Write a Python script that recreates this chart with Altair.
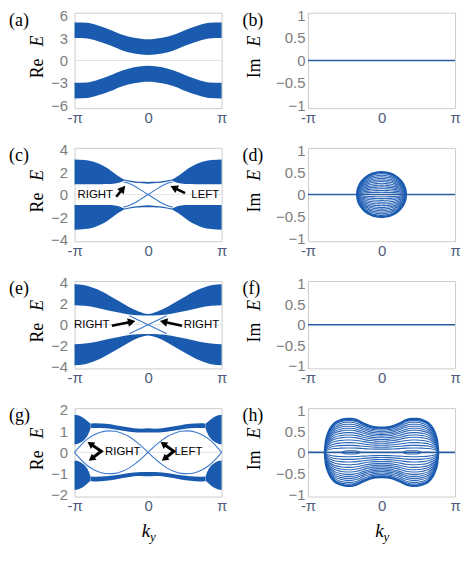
import math
import pandas as pd
import altair as alt

PI = math.pi

# ---------------- values ----------------
K_TICKS = [-PI, 0.0, PI]
RE_TICKS_A = [-6, -3, 0, 3, 6]
RE_TICKS_CE = [-4, -2, 0, 2, 4]
RE_TICKS_G = [-2, -1, 0, 1, 2]
IM_TICKS = [-1, -0.5, 0, 0.5, 1]

# (a) upper band (k <= 0 half; symmetric in k, lower band mirrored in E)
A_K = [-PI, -2.6, -2.1, -1.6, -1.1, -0.6, 0.0]
A_TOP = [5.1, 5.05, 4.65, 4.1, 3.45, 3.05, 2.85]
A_BOT = [3.0, 2.95, 2.55, 2.0, 1.35, 0.92, 0.72]

# (c) bulk (left, upper), middle thin band, edge state
C_BULK_K = [-PI, -2.7, -2.29, -2.0, -1.73, -1.5, -1.3, -1.15, -1.02]
C_BULK_TOP = [3.12, 3.07, 2.9, 2.65, 2.33, 1.98, 1.66, 1.48, 1.33]
C_BULK_BOT = [0.92, 0.92, 0.92, 0.92, 0.93, 0.96, 1.02, 1.12, 1.25]
C_MID_K = [-1.02, -0.8, -0.5, -0.25, 0.0]
C_MID_TOP = [1.33, 1.25, 1.16, 1.13, 1.12]
C_MID_BOT = [1.25, 1.14, 1.04, 1.0, 0.96]
C_EDGE_K = [-1.05, -0.8, -0.6, -0.3, 0.0, 0.3, 0.6, 0.8, 1.05]
C_EDGE_E = [1.12, 0.98, 0.78, 0.39, 0.0, -0.39, -0.78, -0.98, -1.12]

# (e)
E_K = [-PI, -2.7, -2.2, -1.65, -1.2, -0.8, -0.4, 0.0]
E_TOP = [3.85, 3.75, 3.38, 2.75, 2.18, 1.66, 1.25, 1.02]
E_BOT = [1.85, 1.79, 1.61, 1.33, 1.14, 0.97, 0.9, 0.88]
E_EDGE_K = [-0.8, -0.4, 0.0, 0.4, 0.8]
E_EDGE_E = [0.86, 0.43, 0.0, -0.43, -0.86]

# (g)
G_BULK_K = [-PI, -3.0, -2.85, -2.7, -2.58, -2.46]
G_BULK_TOP = [1.77, 1.75, 1.68, 1.57, 1.46, 1.34]
G_BULK_BOT = [0.38, 0.41, 0.49, 0.62, 0.8, 1.12]
G_BAND_K = [-2.45, -2.2, -1.8, -1.4, -1.0, -0.6, -0.3, 0.0]
G_BAND_TOP = [1.36, 1.37, 1.34, 1.28, 1.2, 1.13, 1.11, 1.13]
G_BAND_BOT = [1.14, 1.15, 1.13, 1.08, 1.01, 0.95, 0.93, 0.93]
G_EYE_K = [-PI, -2.9, -2.6, -2.3, -2.0, -1.7, -1.4, -1.1, -0.8, -0.5, -0.25, 0.0]
G_EYE_E = [0.0, 0.31, 0.62, 0.83, 0.96, 1.01, 0.99, 0.89, 0.73, 0.49, 0.26, 0.0]

# (d) outer contour (k <= 0 half) and relative heights of the nested curves
D_K = [-1.04, -1.02, -0.98, -0.92, -0.84, -0.72, -0.56, -0.36, -0.16, 0.0]
D_OUT = [0.0, 0.1, 0.17, 0.24, 0.3, 0.37, 0.43, 0.48, 0.5, 0.51]
D_LEVELS = [1.0, 0.93, 0.86, 0.79, 0.72, 0.65, 0.58, 0.5, 0.42, 0.34, 0.26, 0.18, 0.1]

# (h)
H_K = [-2.42, -2.38, -2.3, -2.18, -2.0, -1.75, -1.5, -1.3, -1.05, -0.8, -0.5, -0.25, 0.0]
H_OUT = [0.0, 0.25, 0.43, 0.58, 0.7, 0.77, 0.8, 0.8, 0.77, 0.7, 0.63, 0.6, 0.59]
H_LEVELS = [1.0, 0.95, 0.9, 0.84, 0.78, 0.72, 0.66, 0.59, 0.52, 0.45, 0.37, 0.29, 0.21, 0.13]
H_EYE_K = [-1.72, -1.62, -1.48, -1.31, -1.14, -1.0, -0.9]
H_EYE_E = [0.0, 0.028, 0.038, 0.04, 0.038, 0.028, 0.0]

# annotations: (label, align, k, E) and arrows (k_tail, E_tail, k_head, E_head)
C_LABELS = [("RIGHT", "right", -1.5, -0.06), ("LEFT", "left", 1.85, -0.06)]
C_ARROWS = [(-1.36, -0.2, -1.08, 0.52), (1.58, 0.12, 1.1, 0.62)]
E_LABELS = [("RIGHT", "right", -1.65, -0.05), ("RIGHT", "left", 1.52, -0.05)]
E_ARROWS = [(-1.55, -0.1, -0.7, 0.28), (1.45, -0.1, 0.66, 0.28)]
G_LABELS = [("RIGHT", "left", -1.84, 0.0), ("LEFT", "left", 1.13, 0.0)]
G_ZIGZAGS = [[(-2.47, 0.4), (-2.0, 0.05), (-2.42, -0.3)],
             [(0.65, 0.4), (1.1, 0.05), (0.7, -0.3)]]

# ---------------- styling ----------------
SERIF = "Liberation Serif"
SANS = "Liberation Sans"
BLUE = "#1a5bb0"
LINE = "#3b79cc"
FLAT = "#2a5d9f"
YLAB = "#7d7d7d"
XLAB = "#4d5c7c"
GRID = "#e3e3e3"
FRAME = "#cdcdcd"
W = 148
ROW_H = [96, 94, 88, 89]


def sym_k(half):
    return list(half) + [-v for v in reversed(half[:-1])]


def sym_v(half):
    return list(half) + list(reversed(half[:-1]))


def axes(ydom, yticks, pad):
    X = alt.X("k:Q", title=None,
              scale=alt.Scale(domain=[-PI, PI], nice=False, zero=False),
              axis=alt.Axis(values=K_TICKS,
                            labelExpr="datum.value < -1 ? '-π' : (datum.value > 1 ? 'π' : '0')",
                            labelFlush=False, ticks=False, domain=False, grid=False,
                            labelColor=XLAB, labelFont=SANS, labelFontSize=15, labelPadding=2))
    Y = alt.Y("E:Q", title=None,
              scale=alt.Scale(domain=ydom, nice=False, zero=False),
              axis=alt.Axis(values=yticks,
                            labelExpr="datum.value < 0 ? '−' + format(-datum.value, '') : format(datum.value, '')",
                            ticks=False, domain=False, grid=False,
                            labelColor=YLAB, labelFont=SANS, labelFontSize=15, labelPadding=pad))
    return X, Y


def txt(s, x, y, size, font=SERIF, style="normal", align="left", baseline="middle", angle=0):
    kw = dict(font=font, fontSize=size, fontStyle=style, align=align, baseline=baseline, color="black")
    if angle:
        kw["angle"] = angle
    return alt.Chart(pd.DataFrame({"t": [s]})).mark_text(**kw).encode(
        x=alt.value(x), y=alt.value(y), text="t:N")


def decorations(letter, part, h, title_x, with_k=False):
    c = h / 2
    out = [txt(f"({letter})", -66, 8, 18),
           txt(part, title_x, c + 18, 18, angle=270, baseline="alphabetic"),
           txt("E", title_x, c - 14, 18, style="italic", angle=270, baseline="alphabetic")]
    if with_k:
        out += [txt("k", W / 2 + 2, h + 41, 19, style="italic", align="right", baseline="alphabetic"),
                txt("y", W / 2 + 2, h + 45, 13, style="italic", align="left", baseline="alphabetic")]
    return out


def bands(rows, X, Y, color=BLUE):
    df = pd.DataFrame(rows, columns=["k", "E", "E2", "seg"])
    return alt.Chart(df).mark_area(color=color, interpolate="monotone", opacity=1).encode(
        x=X, y=Y, y2="E2:Q", detail="seg:N")


def lines(rows, X, Y, color, width):
    df = pd.DataFrame(rows, columns=["k", "E", "seg"])
    return alt.Chart(df).mark_line(color=color, strokeWidth=width, interpolate="monotone").encode(
        x=X, y=Y, detail="seg:N")


def zero_rule(Y):
    return alt.Chart(pd.DataFrame({"E": [0.0]})).mark_rule(color=GRID, strokeWidth=1).encode(y=Y)


def screen_angle(k0, e0, k1, e1, h, ydom):
    dx = (k1 - k0) * W / (2 * PI)
    dy = -(e1 - e0) * h / (ydom[1] - ydom[0])
    return math.degrees(math.atan2(dy, dx)) % 360


def arrow_layers(arrs, X, Y, h, ydom):
    shafts = pd.DataFrame([(a, b, c, d) for a, b, c, d in arrs], columns=["k", "E", "k2", "E2"])
    heads = pd.DataFrame([(c, d, screen_angle(a, b, c, d, h, ydom)) for a, b, c, d in arrs],
                         columns=["k", "E", "ang"])
    return [alt.Chart(shafts).mark_rule(color="black", strokeWidth=2.6).encode(
                x=X, y=Y, x2="k2:Q", y2="E2:Q"),
            alt.Chart(heads).mark_point(shape="triangle-right", filled=True, color="black",
                                        size=75, opacity=1).encode(
                x=X, y=Y, angle=alt.Angle("ang:Q", scale=None))]


def label_layers(labels, X, Y):
    out = []
    for t, al, k, e in labels:
        df = pd.DataFrame({"k": [k], "E": [e], "t": [t]})
        out.append(alt.Chart(df).mark_text(font=SANS, fontSize=11.5, align=al, baseline="middle",
                                           color="black").encode(x=X, y=Y, text="t:N"))
    return out


def flat_line(X, Y):
    return lines([(-PI, 0.0, 0), (PI, 0.0, 0)], X, Y, FLAT, 1.6)


def family(kh, outer, levels, X, Y, color=BLUE):
    ks = sym_k(kh)
    vs = sym_v(outer)
    thin, thick = [], []
    for i, lv in enumerate(levels):
        for sgn in (1, -1):
            tgt = thick if i == 0 else thin
            for k, v in zip(ks, vs):
                tgt.append((k, sgn * lv * v, f"{i}_{sgn}"))
    return [lines(thin, X, Y, "#2b66b8", 1.1), lines(thick, X, Y, color, 2.4)]


# ---------------- panels ----------------
def panel_a():
    h, ydom = ROW_H[0], [-6.4, 6.4]
    X, Y = axes(ydom, RE_TICKS_A, 7)
    ks, top, bot = sym_k(A_K), sym_v(A_TOP), sym_v(A_BOT)
    rows = [(k, b, t, "up") for k, b, t in zip(ks, bot, top)]
    rows += [(k, -t, -b, "dn") for k, b, t in zip(ks, bot, top)]
    return alt.layer(zero_rule(Y), bands(rows, X, Y), *decorations("a", "Re", h, -32)).properties(width=W, height=h)


def panel_im_flat(letter, h):
    ydom = [-1.06, 1.06]
    X, Y = axes(ydom, IM_TICKS, 3)
    return alt.layer(flat_line(X, Y), *decorations(letter, "Im", h, -48)).properties(width=W, height=h)


def panel_c():
    h, ydom = ROW_H[1], [-4.15, 4.15]
    X, Y = axes(ydom, RE_TICKS_CE, 7)
    rows = []
    for sk in (1, -1):
        for se in (1, -1):
            tag = f"{sk}{se}"
            for k, b, t in zip(C_BULK_K, C_BULK_BOT, C_BULK_TOP):
                lo, hi = (b, t) if se == 1 else (-t, -b)
                rows.append((sk * k, lo, hi, "bulk" + tag))
    mk, mt, mb = sym_k(C_MID_K), sym_v(C_MID_TOP), sym_v(C_MID_BOT)
    for k, b, t in zip(mk, mb, mt):
        rows.append((k, b, t, "midup"))
        rows.append((k, -t, -b, "middn"))
    edge = [(k, e, "e1") for k, e in zip(C_EDGE_K, C_EDGE_E)] + \
           [(k, -e, "e2") for k, e in zip(C_EDGE_K, C_EDGE_E)]
    layers = [zero_rule(Y), bands(rows, X, Y), lines(edge, X, Y, LINE, 1.1)]
    layers += arrow_layers(C_ARROWS, X, Y, h, ydom) + label_layers(C_LABELS, X, Y)
    return alt.layer(*layers, *decorations("c", "Re", h, -32)).properties(width=W, height=h)


def panel_d():
    h, ydom = ROW_H[1], [-1.06, 1.06]
    X, Y = axes(ydom, IM_TICKS, 3)
    return alt.layer(flat_line(X, Y), *family(D_K, D_OUT, D_LEVELS, X, Y),
                     *decorations("d", "Im", h, -48)).properties(width=W, height=h)


def panel_e():
    h, ydom = ROW_H[2], [-4.15, 4.15]
    X, Y = axes(ydom, RE_TICKS_CE, 7)
    ks, top, bot = sym_k(E_K), sym_v(E_TOP), sym_v(E_BOT)
    rows = [(k, b, t, "up") for k, b, t in zip(ks, bot, top)]
    rows += [(k, -t, -b, "dn") for k, b, t in zip(ks, bot, top)]
    edge = [(k, e, "e1") for k, e in zip(E_EDGE_K, E_EDGE_E)] + \
           [(k, -e, "e2") for k, e in zip(E_EDGE_K, E_EDGE_E)]
    layers = [zero_rule(Y), bands(rows, X, Y), lines(edge, X, Y, LINE, 1.1)]
    layers += arrow_layers(E_ARROWS, X, Y, h, ydom) + label_layers(E_LABELS, X, Y)
    return alt.layer(*layers, *decorations("e", "Re", h, -32)).properties(width=W, height=h)


def panel_g():
    h, ydom = ROW_H[3], [-2.08, 2.08]
    X, Y = axes(ydom, RE_TICKS_G, 7)
    rows = []
    for sk in (1, -1):
        for se in (1, -1):
            tag = f"{sk}{se}"
            for k, b, t in zip(G_BULK_K, G_BULK_BOT, G_BULK_TOP):
                lo, hi = (b, t) if se == 1 else (-t, -b)
                rows.append((sk * k, lo, hi, "bulk" + tag))
    bk, bt, bb = sym_k(G_BAND_K), sym_v(G_BAND_TOP), sym_v(G_BAND_BOT)
    for k, b, t in zip(bk, bb, bt):
        rows.append((k, b, t, "bup"))
        rows.append((k, -t, -b, "bdn"))
    eyes = []
    for sk in (1, -1):
        for se in (1, -1):
            for k, e in zip(G_EYE_K, G_EYE_E):
                eyes.append((sk * k, se * e, f"eye{sk}{se}"))
    zz_rows, zz_heads = [], []
    for j, pts in enumerate(G_ZIGZAGS):
        for i, (k, e) in enumerate(pts):
            zz_rows.append((k, e, f"z{j}", i))
        for end in (0, 2):
            k1, e1 = pts[end]
            k0, e0 = pts[1]
            zz_heads.append((k1, e1, screen_angle(k0, e0, k1, e1, h, ydom)))
    zz = alt.Chart(pd.DataFrame(zz_rows, columns=["k", "E", "seg", "i"])).mark_line(
        color="black", strokeWidth=3, strokeJoin="miter").encode(x=X, y=Y, detail="seg:N", order="i:Q")
    zzh = alt.Chart(pd.DataFrame(zz_heads, columns=["k", "E", "ang"])).mark_point(
        shape="triangle-right", filled=True, color="black", size=60, opacity=1).encode(
        x=X, y=Y, angle=alt.Angle("ang:Q", scale=None))
    layers = [zero_rule(Y), bands(rows, X, Y), lines(eyes, X, Y, LINE, 1.1), zz, zzh]
    layers += label_layers(G_LABELS, X, Y)
    return alt.layer(*layers, *decorations("g", "Re", h, -32, with_k=True)).properties(width=W, height=h)


def panel_h():
    h, ydom = ROW_H[3], [-1.06, 1.06]
    X, Y = axes(ydom, IM_TICKS, 3)
    eyes = []
    for sk in (1, -1):
        for se in (1, -1):
            for k, e in zip(H_EYE_K, H_EYE_E):
                eyes.append((sk * k, se * e, f"eye{sk}{se}"))
    return alt.layer(flat_line(X, Y), *family(H_K, H_OUT, H_LEVELS, X, Y),
                     lines(eyes, X, Y, "#2b66b8", 1.1),
                     *decorations("h", "Im", h, -48, with_k=True)).properties(width=W, height=h)


chart = alt.concat(
    panel_a(), panel_im_flat("b", ROW_H[0]),
    panel_c(), panel_d(),
    panel_e(), panel_im_flat("f", ROW_H[2]),
    panel_g(), panel_h(),
    columns=2, spacing={"row": 40, "column": 87}, bounds="flush", align="each",
).properties(padding={"top": -2, "left": 0, "right": 0, "bottom": 0}).configure_view(
    stroke=FRAME, strokeWidth=1)

chart.save("out.html", embed_options={"renderer": "svg", "actions": False})
